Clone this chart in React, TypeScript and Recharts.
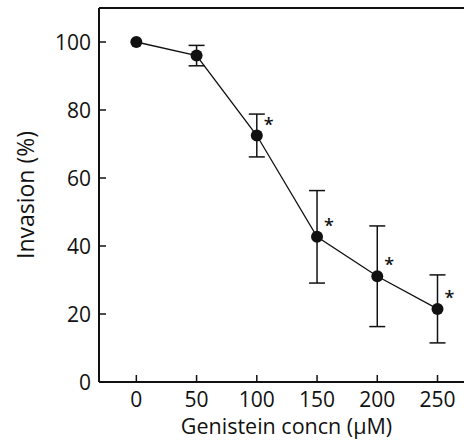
import {
    ComposedChart,
    Line,
    XAxis,
    YAxis,
    ErrorBar,
    LabelList,
    ReferenceLine
} from "recharts";

const concentrations = [0, 50, 100, 150, 200, 250];
const invasion = [100, 96, 72.5, 42.7, 31.1, 21.5];
const errors = [0, 3, 6.3, 13.6, 14.8, 10];
const significance = ["", "", "*", "*", "*", "*"];

const xTicks = [0, 50, 100, 150, 200, 250];
const yTicks = [0, 20, 40, 60, 80, 100];

const FONT = "'Open Sans', sans-serif";

const XTick = ({ x, y, payload }: any) => (
    <g>
        <line x1={x} y1={y} x2={x} y2={y - 7} stroke="#111" strokeWidth={1.5} />
        <text x={x} y={y + 25} textAnchor="middle" fontFamily={FONT} fontSize={21} fill="#111">
            {payload.value}
        </text>
    </g>
);

const YTick = ({ x, y, payload }: any) => (
    <g>
        <line x1={x} y1={y} x2={x + 7} y2={y} stroke="#111" strokeWidth={1.5} />
        <text x={x - 8} y={y + 7.5} textAnchor="end" fontFamily={FONT} fontSize={21} fill="#111">
            {payload.value}
        </text>
    </g>
);

const Star = ({ x, y, value }: any) => {
    if (!value) return null;
    return (
        <text x={x + 12} y={y - 5} textAnchor="middle" fontFamily={FONT} fontSize={18} fontWeight={600} fill="#111">
            {value}
        </text>
    );
};

const App = () => {

    const data = concentrations.map((c, i) => ({
        x: c,
        y: invasion[i],
        err: errors[i],
        sig: significance[i]
    }));

    return (<div style={{ position: "absolute", left: 0, top: 0, width: 464, height: 440, overflow: "hidden", background: "#fff" }}>

        <ComposedChart
            width={464}
            height={440}
            data={data}
            margin={{ top: 8, right: 0, left: 0, bottom: 0 }}
        >

            <XAxis
                type="number"
                dataKey="x"
                domain={[-31, 272]}
                ticks={xTicks}
                allowDataOverflow
                height={58}
                tickSize={0}
                tickMargin={0}
                tickLine={false}
                tick={<XTick />}
                axisLine={{ stroke: "#111", strokeWidth: 2 }}
                label={{
                    value: "Genistein concn (\u03bcM)",
                    position: "insideBottom",
                    offset: 6,
                    dx: 5,
                    style: { fontFamily: FONT, fontSize: 21.5, fill: "#111" }
                }}
            />

            <YAxis
                type="number"
                domain={[0, 110]}
                ticks={yTicks}
                allowDataOverflow
                width={99}
                tickSize={0}
                tickMargin={0}
                tickLine={false}
                tick={<YTick />}
                axisLine={{ stroke: "#111", strokeWidth: 2 }}
                label={{
                    value: "Invasion (%)",
                    angle: -90,
                    position: "insideLeft",
                    offset: 26,
                    style: { textAnchor: "middle", fontFamily: FONT, fontSize: 23, fill: "#111" }
                }}
            />

            <ReferenceLine y={110} stroke="#111" strokeWidth={2} />

            <Line
                dataKey="y"
                stroke="#111"
                strokeWidth={1.3}
                dot={{ r: 6, fill: "#111", stroke: "#111", strokeWidth: 0 }}
                isAnimationActive={false}
            >
                <ErrorBar dataKey="err" direction="y" width={8} stroke="#111" strokeWidth={1.5} />
                <LabelList dataKey="sig" content={<Star />} />
            </Line>

        </ComposedChart>

    </div>

    );
};

export default App;
